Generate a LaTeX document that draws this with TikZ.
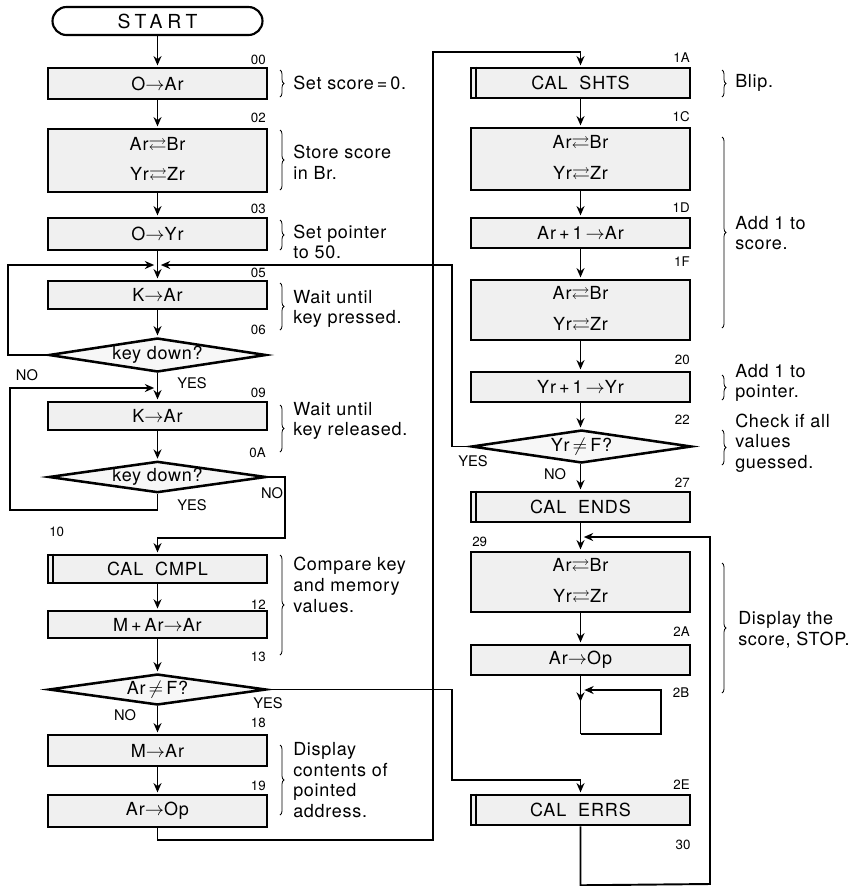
\documentclass[tikz,border=0pt]{standalone}
\usepackage{fontspec}
\usepackage{amssymb}
\setmainfont{TeX Gyre Heros}
\usetikzlibrary{shapes.geometric,arrows.meta,decorations.pathreplacing,calc}
\newcommand{\myto}{$\rightarrow$}
\newcommand{\myxc}{$\rightleftarrows$}
\begin{document}
\begin{tikzpicture}[x=0.75pt,y=-0.75pt,
  box/.style={draw,line width=1.9pt,fill=black!6,minimum width=164pt,minimum height=22.5pt,inner sep=0pt,align=center,font=\fontsize{13.5}{15}\selectfont\addfontfeature{LetterSpace=5}},
  dec/.style={draw,line width=1.9pt,fill=black!3,shape=diamond,aspect=6.4,minimum width=163pt,minimum height=25pt,inner sep=0pt,font=\fontsize{13.5}{15}\selectfont\addfontfeature{LetterSpace=4}},
  ln/.style={line width=1.45pt},
  arr/.style={ln,-{Stealth[length=7pt,width=6pt]},shorten >=1pt},
  lab/.style={font=\fontsize{10}{11}\selectfont,inner sep=0pt},
  yn/.style={font=\fontsize{11}{12}\selectfont,inner sep=0pt},
  note/.style={font=\fontsize{13.5}{15.5}\selectfont\addfontfeature{LetterSpace=4},align=left,anchor=west,inner sep=0pt},
  brc/.style={decorate,decoration={brace,amplitude=3pt},line width=0.6pt},
  dbar/.style={line width=1.4pt}
]
\fill[white] (0,0) rectangle (857,886);
\useasboundingbox (0,0) rectangle (857,886);

% ---------- left column ----------
\node[draw,line width=1.6pt,rounded corners=10.5pt,minimum width=157.5pt,minimum height=21pt,inner sep=0pt,font=\fontsize{14.5}{16}\selectfont\addfontfeature{LetterSpace=25}] (start) at (157.5,21) {START};
\node[box,minimum height=23.25pt] (b00) at (157.5,83.5) {O\myto Ar};
\node[box,minimum height=47.25pt] (b02) at (157.5,160.5) {Ar\myxc Br\\[8pt]Yr\myxc Zr};
\node[box,minimum height=24pt] (b03) at (157.5,234) {O\myto Yr};
\coordinate (j1) at (157.5,265);
\node[box,minimum height=21pt] (b05) at (157.5,295) {K\myto Ar};
\node[dec,minimum height=25.5pt] (d1) at (157.5,355) {key down?};
\coordinate (j2) at (157.5,388);
\node[box,minimum height=21pt] (b09) at (157.5,416) {K\myto Ar};
\node[dec,minimum height=22.5pt] (d2) at (157.5,477) {key down?};
\node[box,minimum height=21pt] (b10) at (157.5,569) {CAL\ \ CMPL};
\node[box,minimum height=20pt] (b12) at (157.5,624.5) {M\,+\,Ar\myto Ar};
\node[dec,minimum height=23.25pt] (d3) at (157.5,689.5) {Ar\,$\neq$\,F?};
\node[box,minimum height=23.25pt] (b18) at (157.5,750.5) {M\myto Ar};
\node[box,minimum height=24pt] (b19) at (157.5,811) {Ar\myto Op};

% ---------- right column ----------
\node[box] (b1A) at (580.5,83) {CAL\ \ SHTS};
\node[box,minimum height=46.5pt] (b1C) at (580.5,159) {Ar\myxc Br\\[8pt]Yr\myxc Zr};
\node[box] (b1D) at (580.5,233) {Ar\,+\,1\,\myto Ar};
\node[box,minimum height=45pt] (b1F) at (580.5,310) {Ar\myxc Br\\[8pt]Yr\myxc Zr};
\node[box] (b20) at (580.5,387) {Yr\,+\,1\,\myto Yr};
\node[dec,minimum width=165pt,minimum height=24.75pt] (d4) at (581.5,446.5) {Yr\,$\neq$\,F?};
\node[box] (b27) at (580.5,507) {CAL\ \ ENDS};
\coordinate (j3) at (580.5,537);
\node[box,minimum height=45pt] (b29) at (580.5,582) {Ar\myxc Br\\[8pt]Yr\myxc Zr};
\node[box] (b2A) at (580.5,660) {Ar\myto Op};
\node[box] (b2E) at (580.5,810) {CAL\ \ ERRS};

% double bars (predefined process)
\foreach \n in {b10,b1A,b27,b2E}
  \draw[dbar] ([xshift=4.5pt]\n.north west) -- ([xshift=4.5pt]\n.south west);

% ---------- connectors ----------
\draw[arr] (start) -- (b00);
\draw[arr] (b00) -- (b02);
\draw[arr] (b02) -- (b03);
\draw[ln] (b03) -- (j1);
\draw[arr] (j1) -- (b05);
\draw[arr] (b05) -- (d1);
\draw[arr] (d1.west) -- ++(-40,0) |- ([xshift=-1.5pt]j1);
\draw[ln] (d1.south) -- (j2);
\draw[arr] (j2) -- (b09);
\draw[arr] (b09) -- (d2);
\draw[arr] (d2.south) -- ++(0,16) -- ++(-147.5,0) |- ([xshift=-1.5pt]j2);
\draw[arr] (d2.east) -- ++(18,0) -- ++(0,61) -| (b10.north);
\draw[arr] (b10) -- (b12);
\draw[arr] (b12) -- (d3);
\draw[arr] (d3.south) -- (b18);
\draw[arr] (b18) -- (b19);
\draw[arr] (b19.south) |- (433,840) -- (433,52) -| (b1A.north);
\draw[arr] (d3.east) -- (452,689.5) -- (452,780) -| (b2E.north);

\draw[arr] (b1A) -- (b1C);
\draw[arr] (b1C) -- (b1D);
\draw[arr] (b1D) -- (b1F);
\draw[arr] (b1F) -- (b20);
\draw[arr] (b20) -- (d4.north -| b20.south);
\draw[arr] (d4.west) -- (452,446.5) |- ([xshift=1.5pt]j1);
\draw[arr] (d4.south -| b27.north) -- (b27);
\draw[ln] (b27) -- (j3);
\draw[arr] (j3) -- (b29);
\draw[arr] (b29) -- (b2A);
\coordinate (stop) at (580.5,734);
\draw[ln] (b2A.south) -- (stop);
\draw[arr] (b2A.south) -- (580.5,703);
\draw[arr] (stop) -- ++(80.5,0) -- ++(0,-44) -- ++(-78,0);
\draw[arr] (b2E.south) -- ++(0,59) -- (710,884) |- ([xshift=1.5pt]j3);

% ---------- address labels ----------
\foreach \t/\y in {00/60,02/118,03/209,05/273,06/330,09/393,0A/453,12/605,13/657,18/723,19/786}
  \node[lab,anchor=east] at (266,\y) {\t};
\node[lab,anchor=west] at (49,532) {10};
\foreach \t/\y in {1A/58,1C/117,1D/208,1F/262,20/360,22/420,27/483,2A/632,2E/785}
  \node[lab,anchor=east] at (690,\y) {\t};
\node[lab,anchor=west] at (472,542) {29};
\node[lab] at (681,693) {2B};
\node[lab] at (683,845) {30};

% ---------- YES / NO ----------
\node[yn] at (27,375) {NO};
\node[yn] at (192,383) {YES};
\node[yn] at (272,493) {NO};
\node[yn] at (192,505) {YES};
\node[yn] at (268,703) {YES};
\node[yn] at (125,715) {NO};
\node[yn] at (473,461) {YES};
\node[yn] at (555,474) {NO};

% ---------- braces and notes ----------
\foreach \ya/\yb in {70/97,130/190,220/250,283/330,405/452,555/655,745/815}
  \draw[brc] (280,\ya) -- (280,\yb);
\foreach \ya/\yb in {70/97,137/328,375/400,430/465,563/693}
  \draw[brc] (722,\ya) -- (722,\yb);

\node[note] at (293,83) {Set score\,=\,0.};
\node[note] at (293,162) {Store score\\in Br.};
\node[note] at (293,242) {Set pointer\\to 50.};
\node[note] at (293,309) {Wait until\\key pressed.};
\node[note] at (293,421) {Wait until\\key released.};
\node[note] at (293,585) {Compare key\\and memory\\values.};
\node[note] at (293,780) {Display\\contents of\\pointed\\address.};

\node[note] at (735,83) {Blip.};
\node[note] at (735,233) {Add 1 to\\score.};
\node[note] at (735,383) {Add 1 to\\pointer.};
\node[note] at (735,443) {Check if all\\values\\guessed.};
\node[note] at (738,630) {Display the\\score, STOP.};
\end{tikzpicture}
\end{document}
